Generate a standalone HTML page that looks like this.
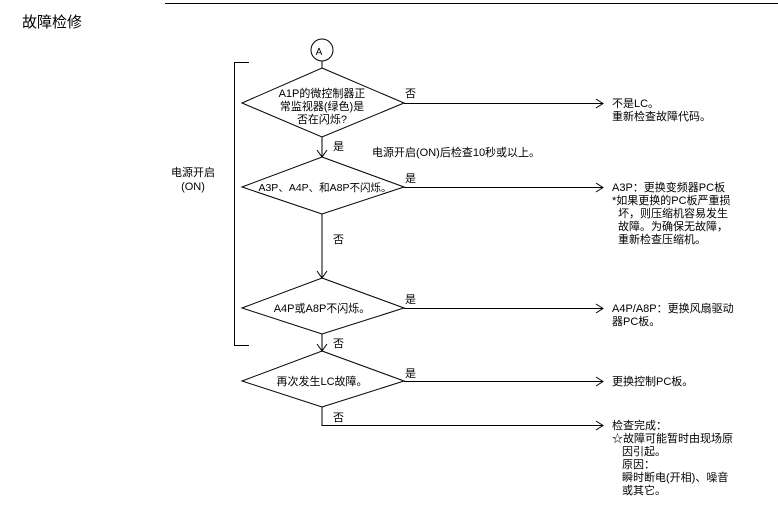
<!DOCTYPE html>
<html><head><meta charset="utf-8"><style>
html,body{margin:0;padding:0;background:#fff;}
svg{display:block;font-family:"Liberation Sans","Noto Sans CJK SC",sans-serif;}
text{font-size:11px;fill:#000;}
</style></head><body>
<svg width="778" height="518" viewBox="0 0 778 518" xmlns="http://www.w3.org/2000/svg">
<g stroke="#000" stroke-width="1" fill="none">
<line x1="165" y1="3.5" x2="778" y2="3.5"/>
<circle cx="322" cy="50" r="11"/>
<line x1="322" y1="61" x2="322" y2="68"/>
<polyline points="249,62.5 234.5,62.5 234.5,345.5 249,345.5"/>
<polygon points="322,68 404,103 322,137 242,103"/>
<polygon points="322,157 404,187 322,214 242,187"/>
<polygon points="322,278 404,308 322,334 242,308"/>
<polygon points="322,351 404,381 322,407 242,381"/>
<line x1="322" y1="137" x2="322" y2="157"/>
<line x1="322" y1="214" x2="322" y2="278"/>
<line x1="322" y1="334" x2="322" y2="351"/>
<polyline points="317,150 322,157 327,150"/>
<polyline points="317,271 322,278 327,271"/>
<polyline points="317,344 322,351 327,344"/>
<polyline points="322,407 322,425.5 603,425.5"/>
<line x1="404" y1="103.5" x2="603" y2="103.5"/>
<line x1="404" y1="187.5" x2="603" y2="187.5"/>
<line x1="404" y1="308.5" x2="603" y2="308.5"/>
<line x1="404" y1="381.5" x2="603" y2="381.5"/>
<polyline points="596,99 603,103.5 596,108"/>
<polyline points="596,183 603,187.5 596,192"/>
<polyline points="596,304 603,308.5 596,313"/>
<polyline points="596,377 603,381.5 596,386"/>
<polyline points="596,421 603,425.5 596,430"/>
</g>
<text x="22" y="27" style="font-size:15px">故障检修</text>
<text x="319" y="55" text-anchor="middle" style="font-size:10px">A</text>
<text x="322" y="97" text-anchor="middle">A1P的微控制器正</text>
<text x="322" y="110" text-anchor="middle">常监视器(绿色)是</text>
<text x="322" y="123" text-anchor="middle">否在闪烁?</text>
<text x="405" y="97">否</text>
<text x="333" y="150">是</text>
<text x="372" y="156">电源开启(ON)后检查10秒或以上。</text>
<text x="193" y="176" text-anchor="middle">电源开启</text>
<text x="193" y="190" text-anchor="middle">(ON)</text>
<text x="325" y="191" text-anchor="middle" style="font-size:10.5px">A3P、A4P、和A8P不闪烁。</text>
<text x="405" y="182">是</text>
<text x="333" y="243">否</text>
<text x="322" y="312" text-anchor="middle">A4P或A8P不闪烁。</text>
<text x="405" y="303">是</text>
<text x="333" y="347">否</text>
<text x="322" y="385" text-anchor="middle">再次发生LC故障。</text>
<text x="405" y="377">是</text>
<text x="333" y="421">否</text>
<text x="612" y="107">不是LC。</text>
<text x="612" y="120">重新检查故障代码。</text>
<text x="612" y="191">A3P：更换变频器PC板</text>
<text x="612" y="204">*如果更换的PC板严重损</text>
<text x="618" y="217">坏，则压缩机容易发生</text>
<text x="618" y="230">故障。为确保无故障，</text>
<text x="618" y="243">重新检查压缩机。</text>
<text x="612" y="312">A4P/A8P：更换风扇驱动</text>
<text x="612" y="325">器PC板。</text>
<text x="612" y="385">更换控制PC板。</text>
<text x="612" y="429">检查完成：</text>
<text x="612" y="442">☆故障可能暂时由现场原</text>
<text x="622" y="455">因引起。</text>
<text x="622" y="468">原因：</text>
<text x="622" y="481">瞬时断电(开相)、噪音</text>
<text x="622" y="494">或其它。</text>
</svg>
</body></html>
